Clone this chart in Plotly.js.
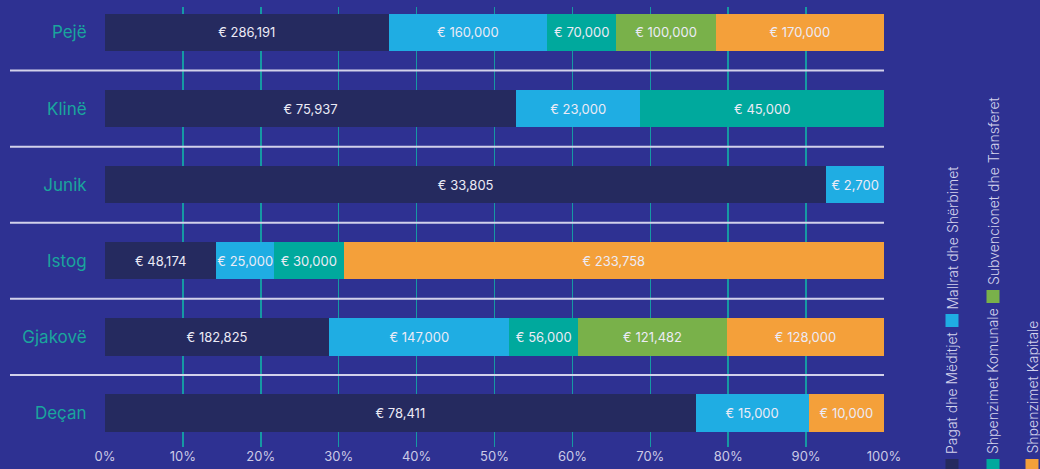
<!DOCTYPE html>
<html>
<head>
<meta charset="utf-8">
<script src="https://cdn.plot.ly/plotly-3.0.1.min.js"></script>
<style>
html,body{margin:0;padding:0;background:#2e3192;}
#chart{width:1040px;height:469px;}
</style>
</head>
<body>
<div id="chart"></div>
<script>
// Categories (top to bottom)
const municipalities = ["Pejë", "Klinë", "Junik", "Istog", "Gjakovë", "Deçan"];

// Series values (EUR)
const pagat       = [286191, 75937, 33805, 48174, 182825, 78411];
const mallrat     = [160000, 23000, 2700, 25000, 147000, 15000];
const komunale    = [70000, 45000, null, 30000, 56000, null];
const subvencione = [100000, null, null, null, 121482, null];
const kapitale    = [170000, null, null, 233758, 128000, 10000];

const seriesNames = [
  "Pagat dhe Mëditjet",
  "Mallrat dhe Shërbimet",
  "Shpenzimet Komunale",
  "Subvencionet dhe Transferet",
  "Shpenzimet Kapitale"
];

const tickVals = [0,10,20,30,40,50,60,70,80,90,100];
const tickText = ["0%","10%","20%","30%","40%","50%","60%","70%","80%","90%","100%"];

const colors = ["#252a5f", "#1fade3", "#00a99d", "#79b14a", "#f4a03a"];
const seriesData = [pagat, mallrat, komunale, subvencione, kapitale];

function fmt(v){ return (v === null || v === undefined) ? "" : "€ " + v.toLocaleString("en-US"); }

const traces = seriesData.map((vals, i) => ({
  type: "bar",
  orientation: "h",
  name: seriesNames[i],
  y: municipalities,
  x: vals,
  text: vals.map(fmt),
  textposition: "inside",
  insidetextanchor: "middle",
  constraintext: "none",
  textfont: {family: "Inter, 'Noto Sans', sans-serif", size: 13, color: "#ecebf6"},
  marker: {color: colors[i], line: {width: 0}},
  hoverinfo: "skip",
  showlegend: false
}));

// layout geometry
const plotTop = 7, plotBottom = 447, W = 1040, H = 469;
const mL = 105, mR = 156;
const yTop = -0.335, yBot = 5.447;
function py(v){ return (yBot - v) / (yBot - yTop); }           // category units -> paper
function pxX(p){ return (p - mL) / (W - mL - mR); }             // pixel -> paper x
function pxY(p){ return (plotBottom - p) / (plotBottom - plotTop); } // pixel -> paper y

const shapes = [];
for (let i = 0; i < municipalities.length - 1; i++) {
  const yy = py(i + 0.5);
  shapes.push({type: "line", xref: "paper", yref: "paper",
    x0: pxX(10), x1: 1, y0: yy, y1: yy,
    line: {color: "#d2d1ea", width: 2}});
}

// custom rotated legend
const legendItems = [
  {name: seriesNames[0], color: colors[0], cx: 952, sqTop: 459, textBottom: 455},
  {name: seriesNames[1], color: colors[1], cx: 952, sqTop: 314, textBottom: 310},
  {name: seriesNames[2], color: colors[2], cx: 993, sqTop: 459, textBottom: 455},
  {name: seriesNames[3], color: colors[3], cx: 993, sqTop: 290, textBottom: 286},
  {name: seriesNames[4], color: colors[4], cx: 1032, sqTop: 459, textBottom: 455}
];
const annotations = [];
legendItems.forEach(it => {
  shapes.push({type: "rect", xref: "paper", yref: "paper",
    x0: pxX(it.cx - 6.5), x1: pxX(it.cx + 6.5),
    y0: pxY(it.sqTop + 13), y1: pxY(it.sqTop),
    fillcolor: it.color, line: {width: 0}});
  annotations.push({xref: "paper", yref: "paper",
    x: pxX(it.cx), y: pxY(it.textBottom),
    xanchor: "center", yanchor: "bottom",
    text: it.name, textangle: -90, showarrow: false, borderpad: 0,
    font: {family: "Inter, 'Noto Sans', sans-serif", size: 14, weight: 300, color: "#d4d3ec"}});
});

const layout = {
  width: W, height: H,
  margin: {l: mL, r: mR, t: plotTop, b: H - plotBottom, pad: 0},
  paper_bgcolor: "#2e3192",
  plot_bgcolor: "#2e3192",
  barmode: "stack",
  barnorm: "percent",
  bargap: 0.51,
  showlegend: false,
  xaxis: {
    range: [0, 100],
    tickvals: tickVals, ticktext: tickText,
    showgrid: true, gridcolor: "#1699a3", gridwidth: 1.5,
    zeroline: false, showline: false, ticks: "",
    tickfont: {family: "Inter, 'Noto Sans', sans-serif", size: 13, color: "#cbcae6"},
    fixedrange: true
  },
  yaxis: {
    type: "category",
    categoryorder: "array", categoryarray: municipalities,
    range: [yBot, yTop],
    showgrid: false, zeroline: false, showline: false,
    ticks: "outside", ticklen: 14, tickcolor: "rgba(0,0,0,0)",
    tickfont: {family: "Inter, 'Noto Sans', sans-serif", size: 17, color: "#1aa59d"},
    fixedrange: true
  },
  shapes: shapes,
  annotations: annotations,
  font: {family: "Inter, 'Noto Sans', sans-serif"}
};

Plotly.newPlot("chart", traces, layout, {displayModeBar: false, staticPlot: true});
</script>
</body>
</html>
